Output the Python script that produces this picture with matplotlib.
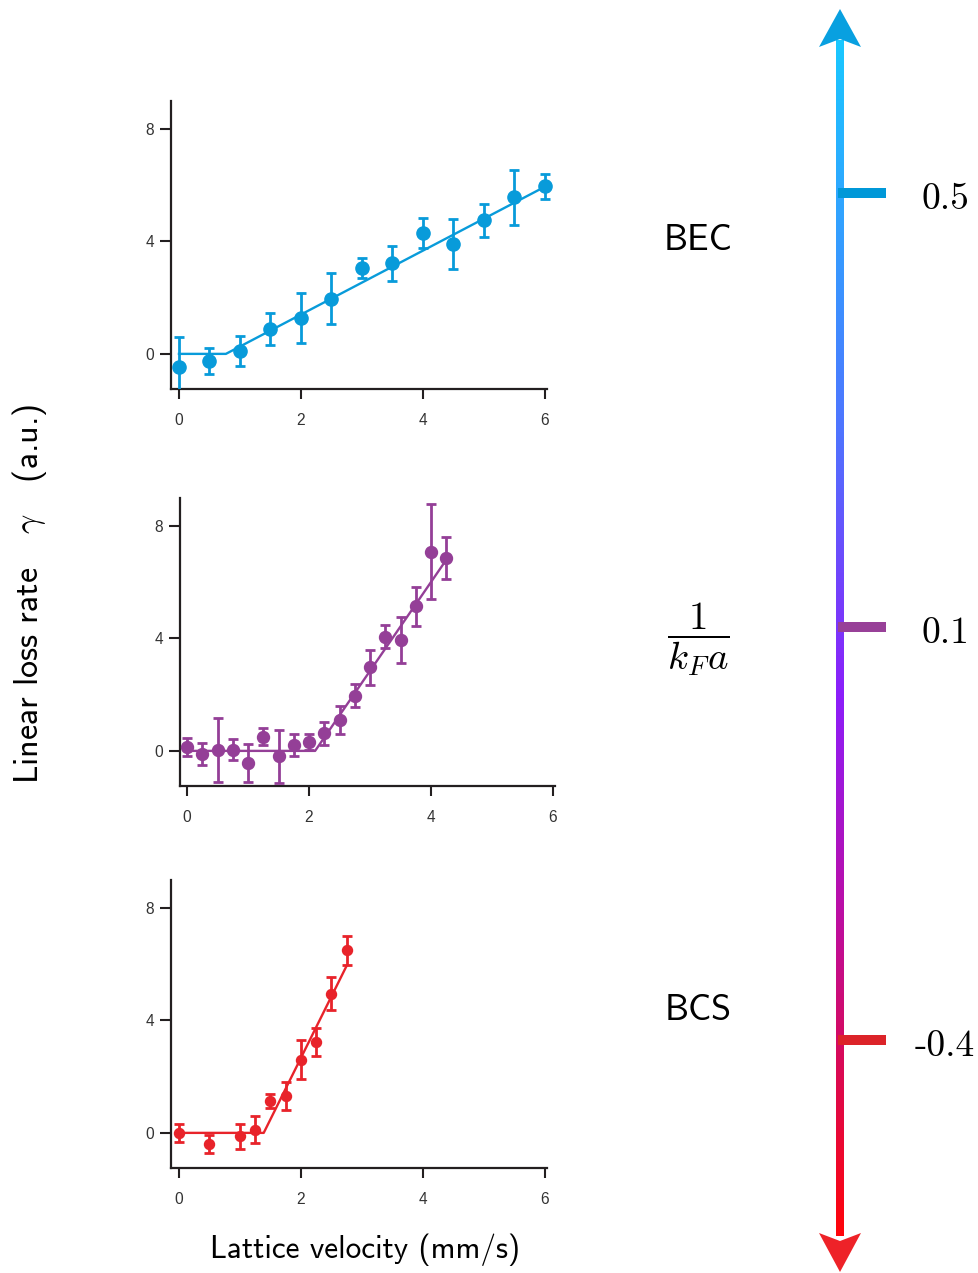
import numpy as np
import matplotlib
matplotlib.use("Agg")
from matplotlib import pyplot as plt
from matplotlib.colors import LinearSegmentedColormap
from matplotlib.patches import Polygon, Rectangle

plt.rcParams['mathtext.fontset'] = 'cm'

# ---- data ----
# BEC side (top panel)
bec_v = [0, 0.5, 1, 1.5, 2, 2.5, 3, 3.5, 4, 4.5, 5, 5.5, 6]
bec_g = [-0.45, -0.25, 0.11, 0.88, 1.27, 1.97, 3.05, 3.22, 4.30, 3.92, 4.75, 5.58, 5.96]
bec_e = [1.04, 0.46, 0.53, 0.57, 0.88, 0.91, 0.35, 0.63, 0.54, 0.89, 0.58, 0.98, 0.45]
bec_fit_v = [0, 0.77, 6]
bec_fit_g = [0, 0, 5.95]

# unitary (middle panel)
uni_v = [0, 0.25, 0.5, 0.75, 1.0, 1.25, 1.5, 1.75, 2.0, 2.25, 2.5, 2.75, 3.0, 3.25, 3.5, 3.75, 4.0, 4.25]
uni_g = [0.13, -0.12, 0.04, 0.04, -0.42, 0.51, -0.20, 0.21, 0.31, 0.62, 1.10, 1.97, 2.97, 4.07, 3.94, 5.14, 7.08, 6.85]
uni_e = [0.33, 0.39, 1.13, 0.38, 0.68, 0.31, 0.95, 0.38, 0.28, 0.41, 0.50, 0.40, 0.63, 0.40, 0.82, 0.71, 1.69, 0.75]
uni_fit_v = [0, 2.1, 4.25]
uni_fit_g = [0, 0, 6.8]

# BCS side (bottom panel)
bcs_v = [0, 0.5, 1.0, 1.25, 1.5, 1.75, 2.0, 2.25, 2.5, 2.75]
bcs_g = [0.0, -0.40, -0.12, 0.12, 1.13, 1.32, 2.61, 3.25, 4.96, 6.50]
bcs_e = [0.31, 0.32, 0.44, 0.49, 0.25, 0.49, 0.70, 0.50, 0.59, 0.52]
bcs_fit_v = [0, 1.39, 2.75]
bcs_fit_g = [0, 0, 5.95]

scale_labels = ['0.5', '0.1', '-0.4']

c_blue = '#089BDA'
c_purple = '#943F97'
c_red = '#E8232A'
spine_c = '#231F20'

fig = plt.figure(figsize=(9.79, 12.73), dpi=100)

# overlay in pixel coords for the schematic arrow and labels
ov = fig.add_axes([0, 0, 1, 1])
ov.set_xlim(0, 979)
ov.set_ylim(1273, 0)
ov.axis('off')

grad_cmap = LinearSegmentedColormap.from_list('arr', [
    (0.0, (25/255, 200/255, 1.0)),
    (0.33, (80/255, 115/255, 1.0)),
    (0.55, (140/255, 30/255, 250/255)),
    (0.72, (185/255, 15/255, 170/255)),
    (0.85, (215/255, 10/255, 90/255)),
    (1.0, (1.0, 5/255, 10/255)),
])
grad = np.linspace(0, 1, 600).reshape(-1, 1)
ov.imshow(grad, cmap=grad_cmap, extent=[836, 844, 1236, 40], aspect='auto',
          interpolation='bilinear', zorder=1)
ov.add_patch(Polygon([(840, 9), (861, 47), (840, 39), (819, 47)], closed=True,
                     color='#08A0E0', lw=0, zorder=2))
ov.add_patch(Polygon([(840, 1272), (861, 1233), (840, 1241), (819, 1233)], closed=True,
                     color='#EE2228', lw=0, zorder=2))

tick_y = [193, 627, 1040]
tick_c = ['#0098D8', '#984098', '#DC2329']
for ty, tc, lab in zip(tick_y, tick_c, scale_labels):
    ov.add_patch(Rectangle((838, ty - 5), 48, 10, color=tc, lw=0, zorder=3))
    ov.text(945, ty + 6, lab, family='cmr10', fontsize=27, ha='center', va='center')

ov.text(698, 240, 'BEC', family='cmss10', fontsize=26, ha='center', va='center')
ov.text(698, 1010, 'BCS', family='cmss10', fontsize=26, ha='center', va='center')
ov.text(698, 639, r'$\dfrac{1}{k_F a}$', fontsize=28, ha='center', va='center')

ov.text(30, 594, r'Linear loss rate   $\gamma$   (a.u.)', family='cmss10', fontsize=24.5,
        rotation=90, ha='center', va='center')
ov.text(365, 1250, 'Lattice velocity (mm/s)', family='cmss10', fontsize=22.5,
        ha='center', va='center')


def panel(left, bottom, x0, v, g, e, fv, fg, col, ms):
    # 61 px per x unit, 28.1 px per y unit; bottom spine stops just past 6
    xr = 6.25
    ax = fig.add_axes([left/979, 1 - bottom/1273, (xr - x0)*61/979, 288/1273])
    ax.errorbar(v, g, yerr=e, fmt='o', color=col, ms=ms, elinewidth=2,
                capsize=3.6, capthick=2, zorder=3)
    ax.plot(fv, fg, color=col, lw=1.7, zorder=2)
    ax.set_xlim(x0, xr)
    ax.set_ylim(-1.25, 9)
    ax.set_xticks([0, 2, 4, 6])
    ax.set_yticks([0, 4, 8])
    for s in ['top', 'right']:
        ax.spines[s].set_visible(False)
    for s in ['left', 'bottom']:
        ax.spines[s].set_linewidth(1.6)
        ax.spines[s].set_color(spine_c)
    ax.spines['bottom'].set_bounds(x0, 6.03)
    ax.tick_params(axis='y', direction='out', length=8, width=1.5, pad=4,
                   labelsize=11.2, colors=spine_c, labelcolor='#333333')
    ax.tick_params(axis='x', direction='out', length=7, width=1.5, pad=10.5,
                   labelsize=11.2, colors=spine_c, labelcolor='#333333')
    for lab in ax.get_xticklabels() + ax.get_yticklabels():
        lab.set_family('Liberation Sans')
    ax.patch.set_alpha(0)
    return ax


panel(171, 389, -0.13, bec_v, bec_g, bec_e, bec_fit_v, bec_fit_g, c_blue, 9.5)
panel(180, 786, -0.115, uni_v, uni_g, uni_e, uni_fit_v, uni_fit_g, c_purple, 8.6)
panel(171, 1168, -0.13, bcs_v, bcs_g, bcs_e, bcs_fit_v, bcs_fit_g, c_red, 7.2)

fig.savefig('out.png', dpi=100)
